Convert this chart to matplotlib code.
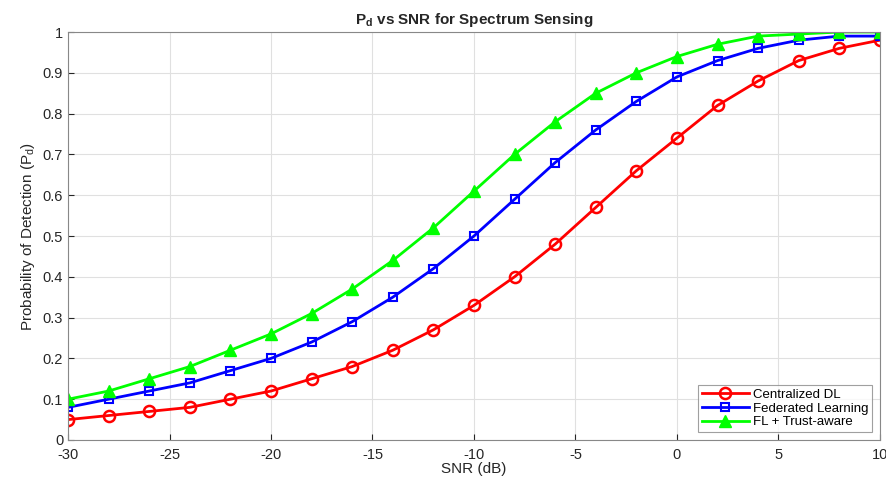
import matplotlib
matplotlib.use("Agg")
import matplotlib.pyplot as plt

snr = list(range(-30, 11, 2))
pd_central = [0.05, 0.06, 0.07, 0.08, 0.10, 0.12, 0.15, 0.18, 0.22, 0.27, 0.33,
              0.40, 0.48, 0.57, 0.66, 0.74, 0.82, 0.88, 0.93, 0.96, 0.98]
pd_fed = [0.08, 0.10, 0.12, 0.14, 0.17, 0.20, 0.24, 0.29, 0.35, 0.42, 0.50,
          0.59, 0.68, 0.76, 0.83, 0.89, 0.93, 0.96, 0.98, 0.99, 0.99]
pd_trust = [0.10, 0.12, 0.15, 0.18, 0.22, 0.26, 0.31, 0.37, 0.44, 0.52, 0.61,
            0.70, 0.78, 0.85, 0.90, 0.94, 0.97, 0.99, 0.995, 1.00, 1.00]
labels = ["Centralized DL", "Federated Learning", "FL + Trust-aware"]

plt.rcParams['font.family'] = ['Liberation Sans', 'DejaVu Sans']
plt.rcParams['axes.unicode_minus'] = False
grey = '#262626'

fig = plt.figure(figsize=(8.87, 4.78), dpi=100)
ax = fig.add_axes([0.0767, 0.0795, 0.9153, 0.8535])

ax.plot(snr, pd_central, '-o', color='#ff0000', lw=2, ms=8, mfc='none', mew=1.8, label=labels[0])
ax.plot(snr, pd_fed, '-s', color='#0000ff', lw=2, ms=6, mfc='none', mew=1.5, label=labels[1])
ax.plot(snr, pd_trust, '-^', color='#00ff00', lw=2, ms=9, label=labels[2])

ax.set_xlim(-30, 10)
ax.set_ylim(0, 1)
ax.set_xticks(range(-30, 11, 5))
ax.set_yticks([i / 10 for i in range(11)])
ax.set_yticklabels(['0'] + ['%.1f' % (i / 10) for i in range(1, 10)] + ['1'])
ax.grid(True, color='#e0e0e0', lw=0.8)
ax.set_axisbelow(True)
ax.tick_params(colors=grey, labelsize=10.5, direction='in', length=4)
ax.tick_params(axis='x', pad=6)
for s in ax.spines.values():
    s.set_color('#888888')

ax.set_title(r'P$_\mathregular{d}$ vs SNR for Spectrum Sensing', fontsize=11, fontweight='bold', color=grey)
ax.set_xlabel('SNR (dB)', fontsize=11, color=grey, labelpad=0)
ax.set_ylabel(r'Probability of Detection (P$_\mathregular{d}$)', fontsize=11, color=grey, labelpad=4)

leg = ax.legend(loc='lower right', fontsize=9.5, frameon=True, fancybox=False,
                edgecolor='#888888', borderpad=0.3, labelspacing=0.1,
                handlelength=3.5, handletextpad=0.3, borderaxespad=0.6)
leg.get_frame().set_linewidth(0.8)

fig.savefig('out.png', dpi=100)
